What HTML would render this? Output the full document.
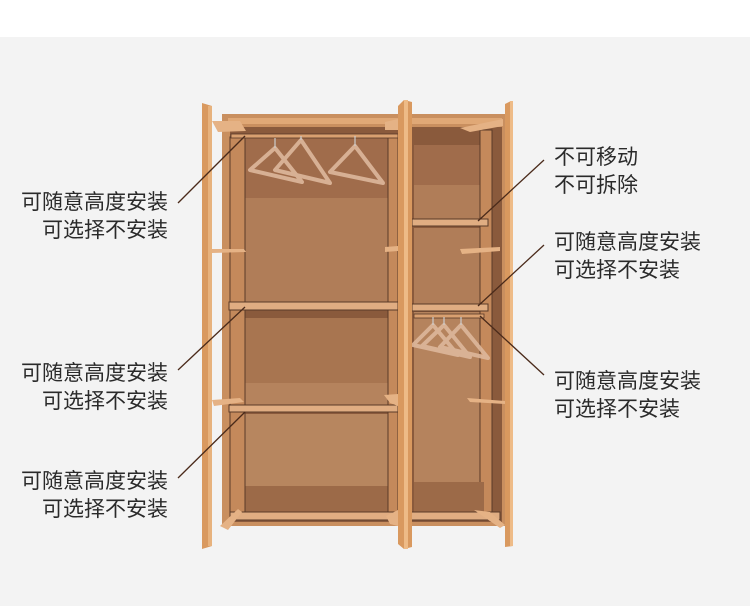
<!DOCTYPE html>
<html><head><meta charset="utf-8"><style>
html,body{margin:0;padding:0;width:750px;height:606px;overflow:hidden;background:#fff}
svg{display:block}
text{font-family:"Liberation Sans","Noto Sans CJK SC",sans-serif;font-size:21px;fill:#2a2a2a}
</style></head><body>
<svg width="750" height="606" viewBox="0 0 750 606">
<rect x="0" y="0" width="750" height="37" fill="#fff"/>
<rect x="0" y="37" width="750" height="569" fill="#f3f3f3"/>

<!-- cabinet frame -->
<rect x="222" y="114" width="284" height="412" fill="#c98f5f"/>
<rect x="228" y="118" width="274" height="6" fill="#e0a876"/>
<!-- left interior -->
<rect x="230" y="127" width="168" height="395" fill="#8a5a3c"/>
<rect x="245" y="138" width="143" height="60" fill="#a06c4b"/>
<rect x="245" y="198" width="143" height="108" fill="#b07d58"/>
<rect x="245" y="318" width="143" height="65" fill="#a87550"/>
<rect x="245" y="383" width="143" height="25" fill="#b5835d"/>
<rect x="245" y="414" width="143" height="72" fill="#b7865f"/>
<rect x="232" y="486" width="162" height="30" fill="#9c6a48"/>
<!-- side panels left -->
<rect x="230" y="137" width="15" height="375" fill="#c4895b" stroke="#5a3a28" stroke-width="1"/>
<rect x="388" y="137" width="10" height="375" fill="#c4895b" stroke="#5a3a28" stroke-width="1"/>
<!-- right interior -->
<rect x="412" y="127" width="90" height="395" fill="#8a5a3c"/>
<rect x="414" y="145" width="66" height="40" fill="#a06c4b"/>
<rect x="414" y="185" width="66" height="35" fill="#b07d58"/>
<rect x="414" y="228" width="66" height="76" fill="#b07d58"/>
<rect x="414" y="312" width="66" height="170" fill="#b5835d"/>
<rect x="480" y="130" width="12" height="382" fill="#c4895b" stroke="#5a3a28" stroke-width="1"/>
<rect x="414" y="482" width="70" height="30" fill="#9c6a48"/>
<!-- shelves -->
<rect x="229" y="302" width="169" height="8" fill="#e0ad82" stroke="#5a3a28" stroke-width="1"/>
<rect x="229" y="405" width="169" height="7" fill="#e0ad82" stroke="#5a3a28" stroke-width="1"/>
<rect x="412" y="219" width="76" height="7" fill="#e0ad82" stroke="#5a3a28" stroke-width="1"/>
<rect x="412" y="304" width="76" height="7" fill="#e0ad82" stroke="#5a3a28" stroke-width="1"/>
<rect x="230" y="512" width="270" height="8" fill="#e0ad82" stroke="#5a3a28" stroke-width="1"/>
<!-- rods -->
<rect x="231" y="134" width="167" height="4" fill="#d9a070" stroke="#5a3a28" stroke-width=".8"/>
<rect x="414" y="314" width="70" height="4" fill="#d9a070" stroke="#5a3a28" stroke-width=".8"/>
<!-- hangers -->
<g fill="none" stroke="#deb89c" stroke-width="4" stroke-linejoin="round" opacity=".9">
<path d="M275 148 L250 170 L302 182 Z"/>
<path d="M301 140 L275 170 L330 183 Z"/>
<path d="M355 146 L330 172 L383 183 Z"/>
<path d="M433 325 L413 345 L458 355 Z"/>
<path d="M444 325 L422 346 L470 357 Z"/>
<path d="M461 325 L440 347 L488 358 Z"/>
</g>
<g stroke="#ccc" stroke-width="1.2" fill="none">
<path d="M275 148 v-10"/><path d="M301 140 v-4"/><path d="M355 146 v-10"/>
<path d="M433 325 v-8"/><path d="M444 325 v-8"/><path d="M461 325 v-8"/>
</g>
<!-- doors -->
<polygon points="202,103 212,106 212,546 202,549" fill="#d9995f"/>
<rect x="208" y="106" width="4" height="440" fill="#e7b27d"/>
<polygon points="398,106 404,100 412,102 412,547 404,549 398,544" fill="#d9995f"/>
<rect x="404" y="100" width="4" height="449" fill="#eebb87"/>
<polygon points="505,104 511,101 513,104 513,546 505,547" fill="#d9995f"/>
<rect x="510" y="101" width="3" height="445" fill="#eebb87"/>
<!-- door shelves -->
<g fill="#e5b285">
<polygon points="212,121 240,121 246,131 218,132"/>
<polygon points="212,249 244,249 246,252 212,253"/>
<polygon points="212,400 240,398 244,402 214,406"/>
<polygon points="220,526 238,509 242,512 228,530"/>
<polygon points="385,122 398,119 398,130 385,130"/>
<polygon points="385,247 398,246 398,251 385,252"/>
<polygon points="384,395 398,394 398,406 390,403"/>
<polygon points="386,516 398,510 398,526 390,524"/>
<polygon points="460,128 503,119 503,126 470,132"/>
<polygon points="460,249 500,247 500,251 462,254"/>
<polygon points="467,398 505,401 505,404 470,402"/>
<polygon points="474,510 490,512 505,525 500,528"/>
</g>
<!-- leader lines -->
<g stroke="#4a2a1a" stroke-width="1.3">
<line x1="178" y1="203" x2="245" y2="136"/>
<line x1="178" y1="370" x2="245" y2="307"/>
<line x1="178" y1="478" x2="245" y2="412"/>
<line x1="544" y1="160" x2="478" y2="221"/>
<line x1="544" y1="245" x2="478" y2="306"/>
<line x1="544" y1="375" x2="480" y2="316"/>
</g>
<!-- labels -->
<g text-anchor="end">
<text x="168" y="209">可随意高度安装</text>
<text x="168" y="237">可选择不安装</text>
<text x="168" y="380">可随意高度安装</text>
<text x="168" y="408">可选择不安装</text>
<text x="168" y="488">可随意高度安装</text>
<text x="168" y="516">可选择不安装</text>
</g>
<text x="554" y="164">不可移动</text>
<text x="554" y="192">不可拆除</text>
<text x="554" y="249">可随意高度安装</text>
<text x="554" y="277">可选择不安装</text>
<text x="554" y="388">可随意高度安装</text>
<text x="554" y="416">可选择不安装</text>
</svg>
</body></html>
